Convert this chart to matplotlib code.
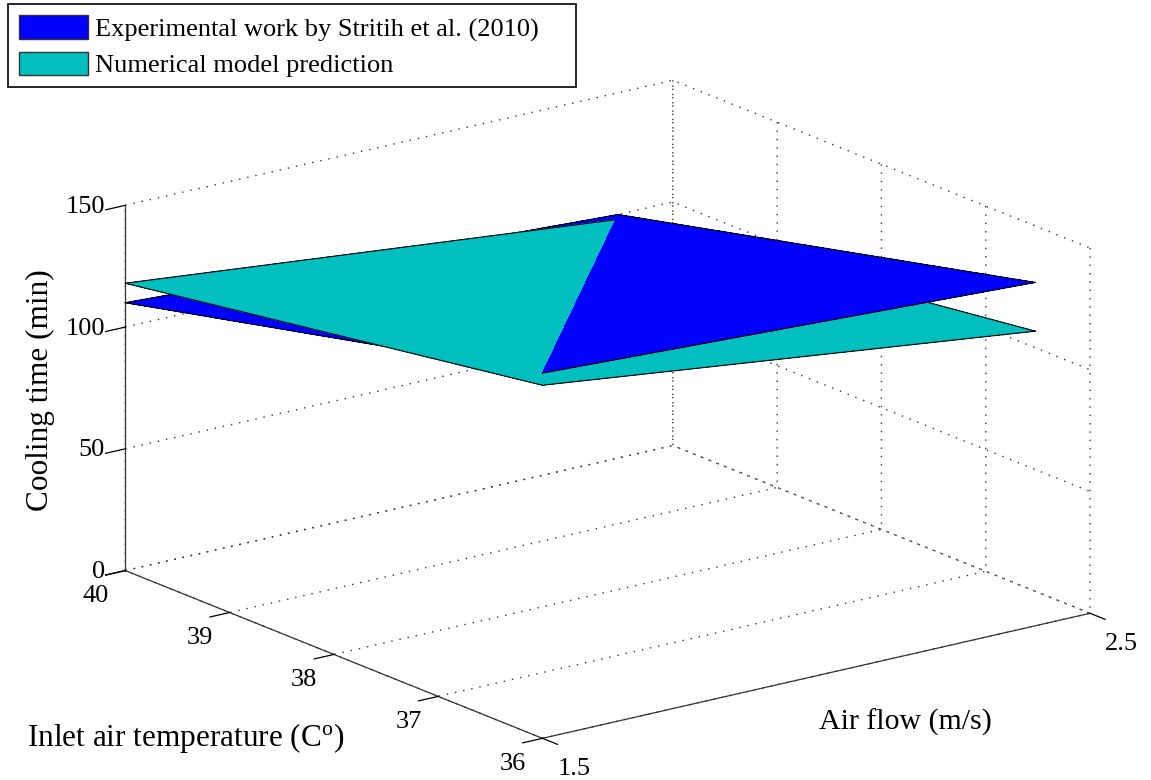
import numpy as np
import matplotlib
matplotlib.use('Agg')
import matplotlib.pyplot as plt
from matplotlib.patches import Patch, Rectangle

# ---------------- data ----------------
air_flow = [1.5, 2.4]            # m/s
inlet_temp = [36, 40]            # deg C
# rows -> inlet_temp, columns -> air_flow
exp_time = [[150, 141],
            [110, 100]]
num_time = [[145, 121],
            [118, 98]]
x_ticks = [1.5, 2.5]
y_ticks = [36, 37, 38, 39, 40]
z_ticks = [0, 50, 100, 150]
legend_labels = ['Experimental work by Stritih et al. (2010)',
                 'Numerical model prediction']
exp_color = (0.0, 0.0, 1.0)
num_color = (0.0, 0.75, 0.75)

plt.rcParams['font.family'] = 'Liberation Serif'
plt.rcParams['mathtext.fontset'] = 'custom'
plt.rcParams['mathtext.rm'] = 'Liberation Serif'
plt.rcParams['mathtext.it'] = 'Liberation Serif:italic'

W, H = 1151, 780
fig = plt.figure(figsize=(W / 100, H / 100), dpi=100)
ax = fig.add_axes([0, 0, 1, 1], projection='3d', proj_type='ortho',
                  computed_zorder=False)
ax.view_init(elev=17.64, azim=-127.0)
ax.set_box_aspect((1, 1.011, 0.559))
ax.set_xlim(1.5, 2.5)
ax.set_ylim(36, 40)
ax.set_zlim(0, 150)
ax.set_xticks(x_ticks)
ax.set_yticks(y_ticks)
ax.set_zticks(z_ticks)
ax.set_xticklabels([f'{v:g}' for v in x_ticks], ha='left')
ax.set_yticklabels([f'{v:g}' for v in y_ticks], ha='right')
ax.set_zticklabels([f'{v:g}' for v in z_ticks], ha='right', va='center_baseline')
ax.tick_params(labelsize=19)
ax.xaxis.set_tick_params(pad=6)
ax.zaxis.set_tick_params(pad=0)

for axis in (ax.xaxis, ax.yaxis, ax.zaxis):
    axis.set_pane_color((1, 1, 1, 0))
    axis.pane.set_edgecolor((1, 1, 1, 0))
    axis._axinfo['grid'].update(color='0.2', linestyle=(0, (1, 5)), linewidth=1.0)
    axis.line.set_color('0.2')
    axis.line.set_linewidth(0.9)
    axis._axinfo['tick']['inward_factor'] = 0.45
    axis._axinfo['tick']['outward_factor'] = 0.0
    axis._axinfo['tick']['linewidth'] = {True: 0.9, False: 0.5}
    axis._axinfo['tick']['color'] = '0.2'

# ---------------- surfaces ----------------
X, Y = np.meshgrid(air_flow, inlet_temp)
xs = X.ravel()
ys = Y.ravel()
# vertex index: 0=(af0,t0) 1=(af1,t0) 2=(af0,t1) 3=(af1,t1)
left_tri = [0, 2, 3]
right_tri = [0, 1, 3]

def draw_tri(Z, tri, color, z, edges):
    zs = np.asarray(Z, dtype=float).ravel()
    ax.plot_trisurf(xs, ys, zs, triangles=[tri], color=color, linewidth=0,
                    antialiased=False, shade=False, zorder=z)
    for a, b in edges:
        ax.plot([xs[a], xs[b]], [ys[a], ys[b]], [zs[a], zs[b]],
                color='k', linewidth=0.8, zorder=z + 0.05)

draw_tri(exp_time, left_tri, exp_color, 1.0, [(0, 2), (2, 3)])
draw_tri(num_time, right_tri, num_color, 1.5, [(0, 1), (1, 3)])
draw_tri(num_time, left_tri, num_color, 2.0, [(0, 2), (2, 3)])
draw_tri(exp_time, right_tri, exp_color, 3.0, [(0, 1), (1, 3)])

# ---------------- fit axes box onto reference geometry ----------------
fig.canvas.draw()
cx = np.array([1.5, 1.5, 2.5, 2.5, 1.5])
cy = np.array([40, 36, 36, 40, 40])
cz = np.array([0, 0, 0, 0, 150])
tgt = np.array([(125, 570), (545, 740), (1089, 613), (672, 445), (125, 205)], float)
tgt[:, 1] = H - tgt[:, 1]
M = ax.get_proj()
v = M @ np.vstack([cx, cy, cz, np.ones_like(cx)])
px = v[0] / v[3]
py = v[1] / v[3]
disp = ax.transData.transform(np.column_stack([px, py]))
bb = ax.bbox
S0 = bb.width
c0 = np.array([bb.x0 + bb.width / 2, bb.y0 + bb.height / 2])
u = (disp - c0) / S0
A = []
b = []
for (ux, uy), (tx, ty) in zip(u, tgt):
    A.append([ux, 1, 0]); b.append(tx)
    A.append([uy, 0, 1]); b.append(ty)
S, Cx, Cy = np.linalg.lstsq(np.array(A), np.array(b), rcond=None)[0]
ax.set_position([(Cx - S / 2) / W, (Cy - S / 2) / H, S / W, S / H])

# ---------------- labels ----------------
fig.text(40 / W, 1 - 390 / H, 'Cooling time (min)', rotation=90,
         ha='center', va='center', fontsize=22.5)
fig.text(186 / W, 1 - 738 / H, 'Inlet air temperature (C$^{\\mathrm{o}}$)',
         ha='center', va='center', fontsize=22.5)
fig.text(905 / W, 1 - 722 / H, 'Air flow (m/s)',
         ha='center', va='center', fontsize=21.5)

handles = [Patch(facecolor=exp_color, edgecolor='0.2', linewidth=1),
           Patch(facecolor=num_color, edgecolor='0.2', linewidth=1)]
leg = fig.legend(handles, legend_labels, loc='upper left',
                 bbox_to_anchor=(10 / W, 1 - 6 / H), borderaxespad=0,
                 fontsize=19, frameon=False,
                 handlelength=2.6, handleheight=1.0, handletextpad=0.27,
                 borderpad=0.35, labelspacing=0.38)
fig.patches.append(Rectangle((8 / W, 1 - 87 / H), 568 / W, 83 / H,
                             transform=fig.transFigure, fill=False,
                             edgecolor='k', linewidth=1.2))

fig.savefig('out.png', dpi=100)
